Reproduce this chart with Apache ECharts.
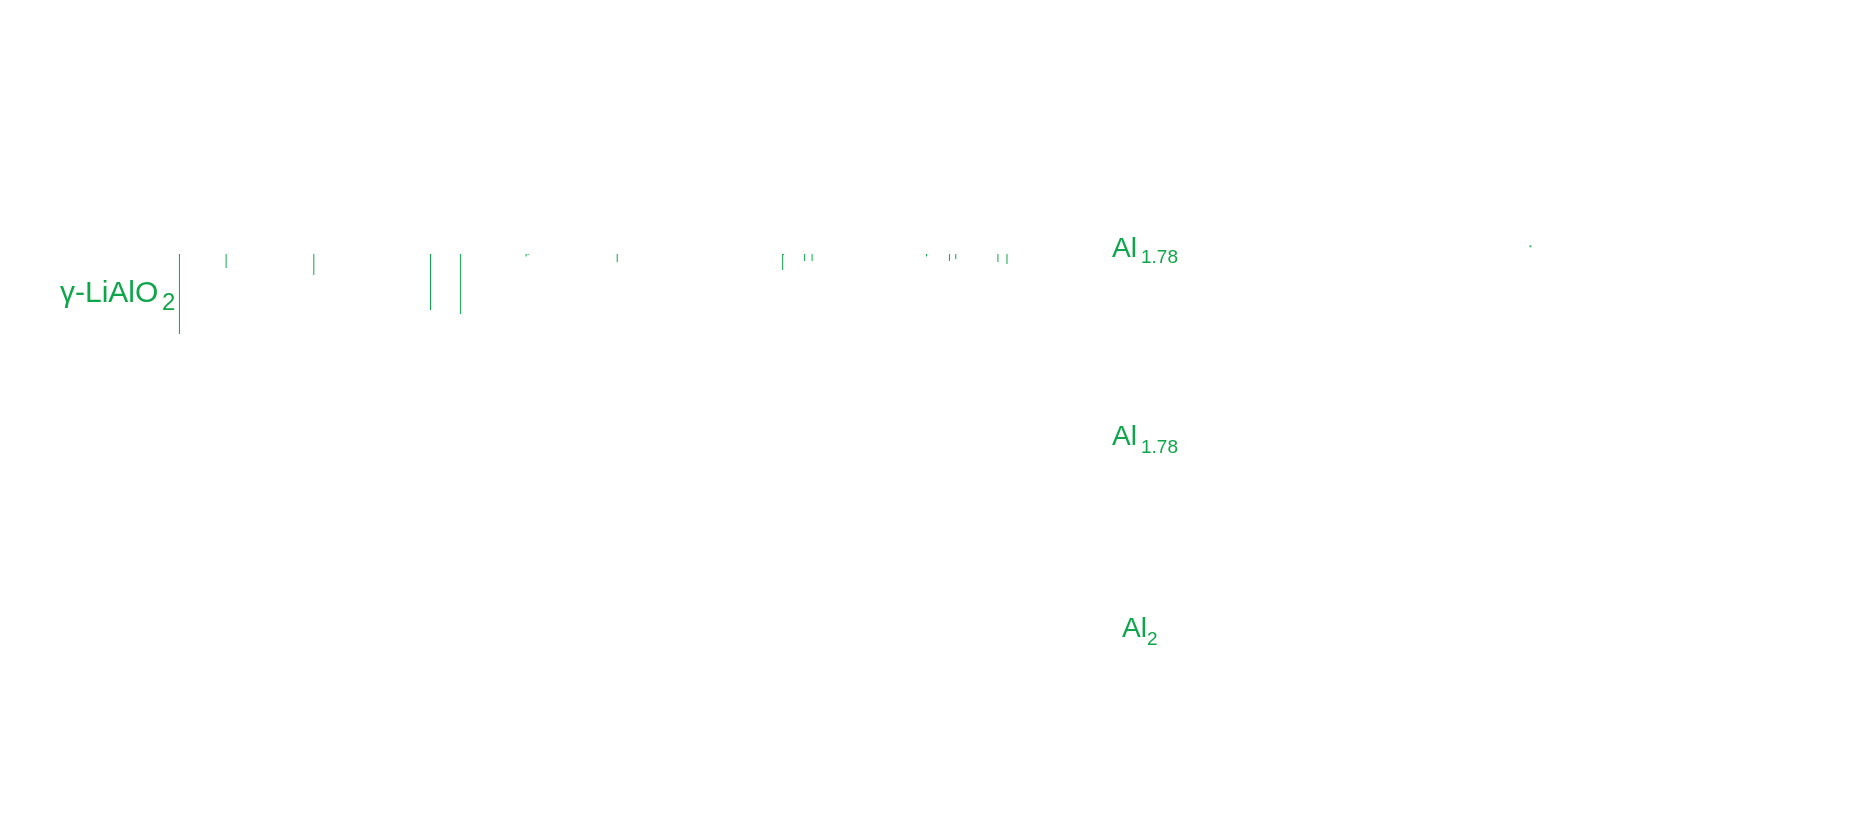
<!DOCTYPE html>
<html>
<head>
<meta charset="utf-8">
<script src="https://cdn.jsdelivr.net/npm/echarts@6/dist/echarts.min.js"></script>
<style>html,body{margin:0;padding:0;background:#fff;}#c{width:1857px;height:813px;}</style>
</head>
<body>
<div id="c"></div>
<script>
// gamma-LiAlO2 reference stick pattern (2theta in degrees, relative stick length)
const twoTheta = [22.27, 24.33, 28.20, 33.35, 34.67, 37.57, 37.66, 41.59, 48.89, 48.93, 49.86, 50.19, 55.24, 56.25, 56.53, 58.39, 58.79];
const intensity = [80, 14, 21, 56, 60, 2.5, 1, 8, 16, 1, 7, 7, 2.5, 7, 5, 8, 10];
// stray point seen to the right
const strayX = [81.89];
const strayY = [-7.7];
const GREEN = '#0ea64b';

const sticks = twoTheta.map((t, i) => [t, intensity[i]]);
const stray = strayX.map((t, i) => [t, strayY[i]]);

const chart = echarts.init(document.getElementById('c'));
chart.setOption({
  animation: false,
  backgroundColor: '#ffffff',
  grid: { left: 128, top: 154, width: 1472.9, height: 200 },
  xAxis: { type: 'value', min: 20, max: 85, show: false },
  yAxis: { type: 'value', min: -100, max: 100, inverse: true, show: false },
  series: [
    {
      type: 'custom',
      data: sticks,
      clip: false,
      renderItem: function (params, api) {
        const p0 = api.coord([api.value(0), 0]);
        const p1 = api.coord([api.value(0), api.value(1)]);
        return {
          type: 'line',
          shape: { x1: p0[0], y1: p0[1], x2: p1[0], y2: p1[1] },
          style: { stroke: GREEN, lineWidth: 1 }
        };
      }
    },
    {
      type: 'scatter',
      data: stray,
      symbol: 'rect',
      symbolSize: 2,
      itemStyle: { color: GREEN }
    }
  ],
  graphic: [
    { type: 'text', left: 60, top: 279, style: { text: 'γ-LiAlO', fill: GREEN, font: '30px "Liberation Sans", Arial, sans-serif' } },
    { type: 'text', left: 162, top: 291, style: { text: '2', fill: GREEN, font: '24px "Liberation Sans", Arial, sans-serif' } },

    { type: 'text', left: 1112, top: 235, style: { text: 'Al', fill: GREEN, font: '28px "Liberation Sans", Arial, sans-serif' } },
    { type: 'text', left: 1141, top: 248, style: { text: '1.78', fill: GREEN, font: '19px "Liberation Sans", Arial, sans-serif' } },

    { type: 'text', left: 1112, top: 423, style: { text: 'Al', fill: GREEN, font: '28px "Liberation Sans", Arial, sans-serif' } },
    { type: 'text', left: 1141, top: 438, style: { text: '1.78', fill: GREEN, font: '19px "Liberation Sans", Arial, sans-serif' } },

    { type: 'text', left: 1122, top: 615, style: { text: 'Al', fill: GREEN, font: '28px "Liberation Sans", Arial, sans-serif' } },
    { type: 'text', left: 1147, top: 630, style: { text: '2', fill: GREEN, font: '19px "Liberation Sans", Arial, sans-serif' } }
  ]
});
</script>
</body>
</html>
